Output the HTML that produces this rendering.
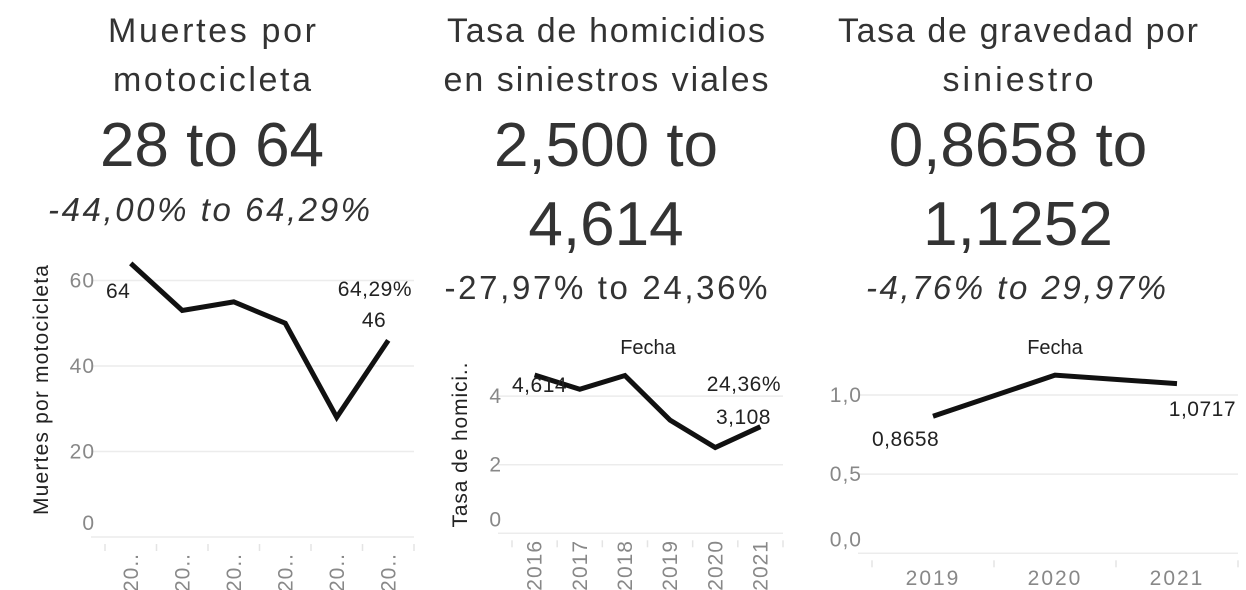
<!DOCTYPE html>
<html><head><meta charset="utf-8"><style>
html,body{margin:0;padding:0;background:#fff;width:1246px;height:590px;overflow:hidden}
svg{font-family:"Liberation Sans",sans-serif}
</style></head><body>
<svg id="root" width="1246" height="590">
<g fill="#333" text-anchor="middle" lengthAdjust="spacing">
  <text x="212" y="42" font-size="34" textLength="208">Muertes por</text>
  <text x="212" y="91" font-size="34" textLength="198">motocicleta</text>
  <text x="212" y="166" font-size="62">28 to 64</text>
  <text x="209" y="221" font-size="33" font-style="italic" textLength="322">-44,00% to 64,29%</text>
  <text x="606" y="42" font-size="34" textLength="318">Tasa de homicidios</text>
  <text x="606" y="91" font-size="34" textLength="325">en siniestros viales</text>
  <text x="606" y="166" font-size="62">2,500 to</text>
  <text x="606" y="245" font-size="62">4,614</text>
  <text x="606" y="299" font-size="33" textLength="323">-27,97% to 24,36%</text>
  <text x="1018" y="42" font-size="34" textLength="360">Tasa de gravedad por</text>
  <text x="1018" y="91" font-size="34" textLength="151">siniestro</text>
  <text x="1018" y="166" font-size="62">0,8658 to</text>
  <text x="1018" y="245" font-size="62">1,1252</text>
  <text x="1016" y="299" font-size="33" font-style="italic" textLength="300">-4,76% to 29,97%</text>
</g>
<g id="c1"></g><g id="c2"></g><g id="c3"></g>
</svg>
<script>
const c1Cats=["2016","2017","2018","2019","2020","2021"];
const c1Vals=[64,53,55,50,28,46];
const c1Ticks=[0,20,40,60];
const c2Cats=["2016","2017","2018","2019","2020","2021"];
const c2Vals=[4.614,4.2,4.6,3.3,2.5,3.108];
const c2Ticks=[0,2,4];
const c3Cats=["2019","2020","2021"];
const c3Vals=[0.8658,1.1252,1.0717];
const c3Ticks=[0,0.5,1.0];
const NS="http://www.w3.org/2000/svg";
function mk(p,tag,a,txt){const e=document.createElementNS(NS,tag);for(const k in a)e.setAttribute(k,a[k]);if(txt!==undefined)e.textContent=txt;p.appendChild(e);return e;}
function chart(id,cats,vals,ticks,o){
  const g=document.getElementById(id);
  const bw=(o.x1-o.x0)/cats.length;
  const X=i=>o.x0+bw*(i+0.5);
  const Y=v=>o.y0-(v-o.vmin)*o.k;
  ticks.forEach(t=>{
    const l=mk(g,'line',{x1:o.x0-14,x2:o.x1,y1:Y(t),y2:Y(t),stroke:'#ececec','stroke-width':1.5});
    
    
    const dy=(t===0)?-7:7;
    const tx=mk(g,'text',{x:o.x0-10,y:Y(t)+dy,'font-size':21,'letter-spacing':1,fill:'#888','text-anchor':'end'},o.fmt(t));
    
    
  });
  for(let i=0;i<=cats.length;i++){
    const x=o.x0+bw*i;
    const t=mk(g,'line',{x1:x,x2:x,y1:o.y0+7,y2:o.y0+14,stroke:'#e4e4e4','stroke-width':1.5});
    
    
  }
  cats.forEach((c,i)=>{
    let t;
    if(o.rot){t=mk(g,'text',{x:X(i)+7,y:o.labY,'font-size':21,'letter-spacing':1,fill:'#888','text-anchor':'end',transform:`rotate(-90 ${X(i)+7} ${o.labY})`},o.short?'20..':c);}
    else{t=mk(g,'text',{x:X(i),y:o.labY,'font-size':21,'letter-spacing':2,fill:'#888','text-anchor':'middle'},c);}
    
    
  });
  const pts=vals.map((v,i)=>X(i)+','+Y(v)).join(' ');
  const pl=mk(g,'polyline',{points:pts,fill:'none',stroke:'#111','stroke-width':5,'stroke-linejoin':'miter'});
  
  
  return {X,Y,g};
}
function lab(g,x,y,t,anc,name){const e=mk(g,'text',{x:x,y:y,'font-size':21,'letter-spacing':0.5,fill:'#222','text-anchor':anc},t);

}
const a=chart('c1',c1Cats,c1Vals,c1Ticks,{x0:105,x1:414,y0:537,k:85.5/20,vmin:0,fmt:v=>String(v),rot:true,short:true,labY:553});
lab(a.g,106,298,String(c1Vals[0]),'start','first-value-label');
lab(a.g,412,296,'64,29%','end','change-label');
lab(a.g,374,327,String(c1Vals[5]),'middle','last-value-label');
const yt1=mk(a.g,'text',{x:48,y:390,'font-size':21,fill:'#222','text-anchor':'middle',textLength:250,lengthAdjust:'spacing',transform:'rotate(-90 48 390)'},'Muertes por motocicleta');


const fmt3=v=>v.toFixed(3).replace('.',',');
const b=chart('c2',c2Cats,c2Vals,c2Ticks,{x0:512,x1:783,y0:533.3,k:34.3,vmin:0,fmt:v=>String(v),rot:true,labY:540});
lab(b.g,512,392,fmt3(c2Vals[0]),'start','first-value-label');
lab(b.g,781,391,'24,36%','end','change-label');
lab(b.g,771,424,fmt3(c2Vals[5]),'end','last-value-label');
const yt2=mk(b.g,'text',{x:467,y:445,'font-size':21,fill:'#222','text-anchor':'middle',textLength:165,lengthAdjust:'spacing',transform:'rotate(-90 467 445)'},'Tasa de homici..');


const f2=mk(b.g,'text',{x:648,y:354,'font-size':20,fill:'#222','text-anchor':'middle'},'Fecha');


const fmt4=v=>v.toFixed(4).replace('.',',');
const c=chart('c3',c3Cats,c3Vals,c3Ticks,{x0:872,x1:1238,y0:553.3,k:158.3,vmin:0,fmt:v=>v.toFixed(1).replace('.',','),rot:false,labY:585});
lab(c.g,872,446,fmt4(c3Vals[0]),'start','first-value-label');
lab(c.g,1236,416,fmt4(c3Vals[2]),'end','last-value-label');
const f3=mk(c.g,'text',{x:1055,y:354,'font-size':20,fill:'#222','text-anchor':'middle'},'Fecha');


</script>
</body></html>
